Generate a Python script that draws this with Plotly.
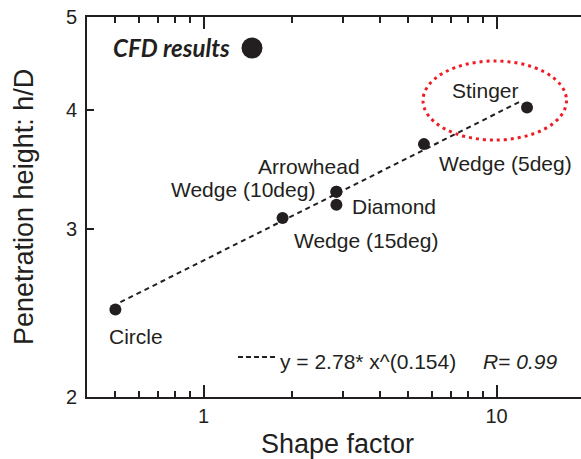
import math
import plotly.graph_objects as go

# ---- data ----
shapes_names = ["Circle", "Wedge (15deg)", "Wedge (10deg)", "Arrowhead", "Diamond", "Wedge (5deg)", "Stinger"]
shape_factor = [0.50, 1.86, 2.84, 2.84, 2.84, 5.65, 12.7]
penetration = [2.47, 3.08, 3.28, 3.28, 3.18, 3.68, 4.02]
fit_coef = 2.78
fit_exp = 0.154
fit_x = [0.52, 12.0]
fit_label = "y = 2.78* x^(0.154)"
r_label = "<i>R</i>= <i>0.99</i>"
x_tickvals = [1, 10]
x_ticktext = ["1", "10"]
x_minor = [0.5, 0.6, 0.7, 0.8, 0.9, 2, 3, 4, 5, 6, 7, 8, 9]
y_tickvals = [2, 3, 4, 5]
y_ticktext = ["2", "3", "4", "5"]

# label offsets (pixels) relative to each point
label_dx = [21, 83, -93, -27, 58, 82, -42]
label_dy = [-27, -23, 2, 25, -2, -19, 17]

INK = "#231f20"
FONT = "Liberation Sans, Arial, sans-serif"

W, H = 581, 459
L, T, B = 87, 17, 62
R = 0
pw = W - L - R
ph = H - T - B

fig = go.Figure()

fit_y = [fit_coef * x ** fit_exp for x in fit_x]
fig.add_trace(go.Scatter(x=fit_x, y=fit_y, mode="lines",
                         line=dict(color=INK, width=2, dash="5px,4px"),
                         hoverinfo="skip", showlegend=False))
fig.add_trace(go.Scatter(x=shape_factor, y=penetration, mode="markers",
                         marker=dict(color=INK, size=12),
                         showlegend=False))

annotations = []
for name, x, y, dx, dy in zip(shapes_names, shape_factor, penetration, label_dx, label_dy):
    annotations.append(dict(x=math.log10(x), y=math.log10(y), xref="x", yref="y",
                            text=name, showarrow=False, xanchor="center", yanchor="middle",
                            xshift=dx, yshift=dy,
                            font=dict(family=FONT, size=21, color=INK)))

def px2paper_x(px):
    return (px - L) / pw

def py2paper_y(py):
    return (H - B - py) / ph

# legend-like fit text
annotations.append(dict(x=px2paper_x(278), y=py2paper_y(361), xref="paper", yref="paper",
                        text=fit_label, showarrow=False, xanchor="left", yanchor="middle",
                        font=dict(family=FONT, size=21, color=INK)))
annotations.append(dict(x=px2paper_x(481), y=py2paper_y(361), xref="paper", yref="paper",
                        text=r_label, showarrow=False, xanchor="left", yanchor="middle",
                        font=dict(family=FONT, size=21, color=INK)))
# CFD results
annotations.append(dict(x=px2paper_x(111), y=py2paper_y(47), xref="paper", yref="paper",
                        text="<b><i>CFD results</i></b>", showarrow=False, xanchor="left", yanchor="middle",
                        font=dict(family="Lato, Open Sans, sans-serif", size=24, color=INK)))
# axis titles
annotations.append(dict(x=px2paper_x(337), y=py2paper_y(444), xref="paper", yref="paper",
                        text="Shape factor", showarrow=False, xanchor="center", yanchor="middle",
                        font=dict(family=FONT, size=27, color=INK)))
annotations.append(dict(x=px2paper_x(24), y=py2paper_y(207), xref="paper", yref="paper",
                        text="Penetration height: h/D", showarrow=False, textangle=-90,
                        xanchor="center", yanchor="middle",
                        font=dict(family=FONT, size=27, color=INK)))

shapes = [
    dict(type="line", xref="paper", yref="paper",
         x0=px2paper_x(238), x1=px2paper_x(278), y0=py2paper_y(357), y1=py2paper_y(357),
         line=dict(color=INK, width=2, dash="5px,3px")),
    dict(type="circle", xref="paper", yref="paper",
         xsizemode="pixel", ysizemode="pixel",
         xanchor=px2paper_x(252), yanchor=py2paper_y(48),
         x0=-10.5, x1=10.5, y0=-10.5, y1=10.5,
         fillcolor=INK, line=dict(color=INK, width=0)),
    dict(type="circle", xref="paper", yref="paper",
         x0=px2paper_x(423), x1=px2paper_x(566.5), y0=py2paper_y(140), y1=py2paper_y(61),
         line=dict(color="#ee1c24", width=3, dash="3px,4px")),
]

fig.update_layout(
    width=W, height=H,
    margin=dict(l=L, r=R, t=T, b=B, pad=0, autoexpand=False),
    paper_bgcolor="white", plot_bgcolor="white",
    font=dict(family=FONT, color=INK),
    annotations=annotations, shapes=shapes,
    xaxis=dict(type="log", range=[math.log10(0.4), math.log10(0.4) + pw / 293.0],
               tickvals=x_tickvals, ticktext=x_ticktext,
               ticks="inside", ticklen=12, tickwidth=1.5, tickcolor=INK,
               minor=dict(tickvals=x_minor, ticks="inside", ticklen=6, tickwidth=1.5, tickcolor=INK),
               showline=True, linewidth=2, linecolor=INK, mirror="ticks",
               showgrid=False, zeroline=False, automargin=False,
               tickfont=dict(family=FONT, size=20, color=INK)),
    yaxis=dict(type="log", range=[math.log10(2), math.log10(5)],
               tickvals=y_tickvals, ticktext=y_ticktext,
               ticks="inside", ticklen=7, tickwidth=1.5, tickcolor=INK,
               showline=True, linewidth=2, linecolor=INK, mirror=False,
               showgrid=False, zeroline=False, automargin=False,
               ticklabelstandoff=4,
               tickfont=dict(family=FONT, size=20, color=INK)),
)

fig.write_html("out.html", config={"displayModeBar": False},
               post_script="document.body.style.margin='0';document.body.style.overflow='hidden';")
